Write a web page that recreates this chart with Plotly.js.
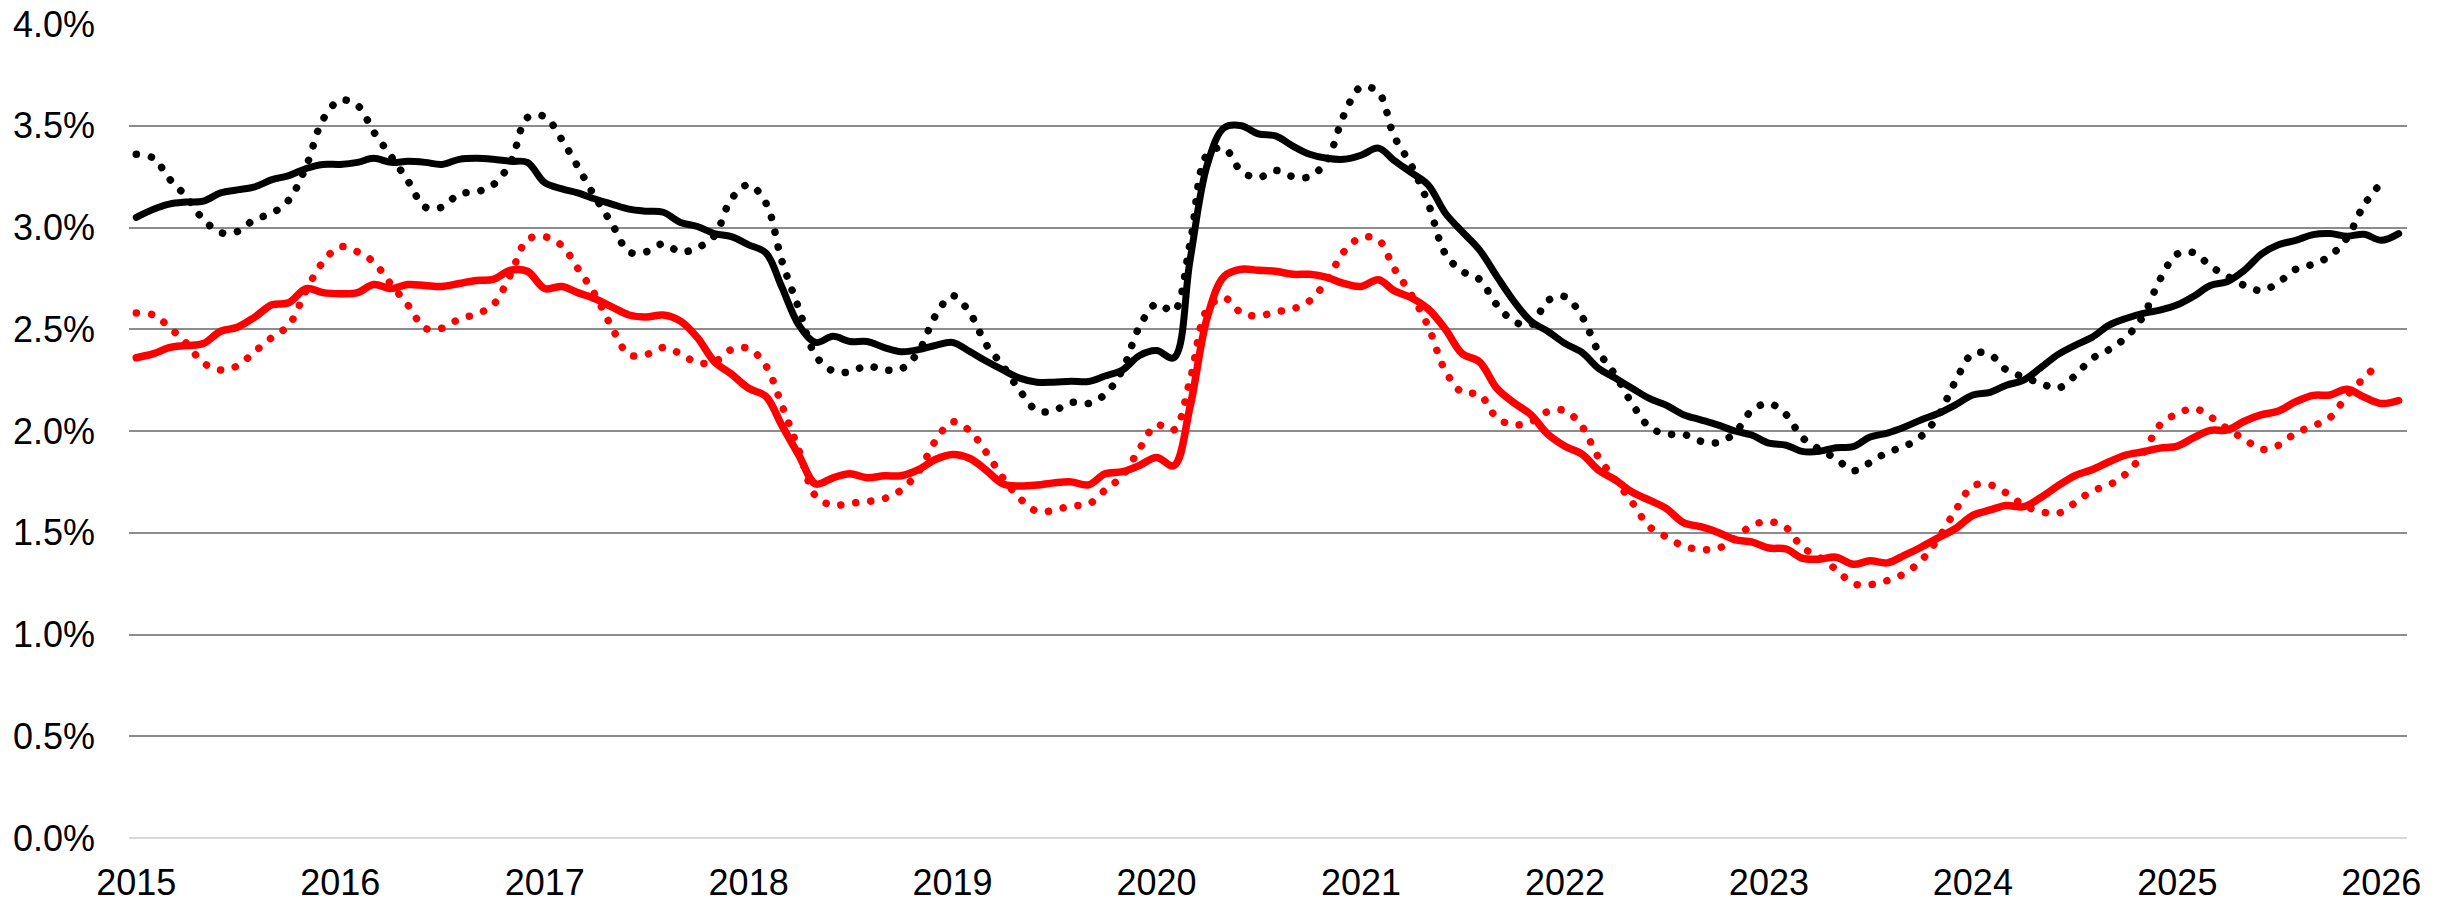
<!DOCTYPE html>
<html>
<head>
<meta charset="utf-8">
<script src="https://cdn.plot.ly/plotly-3.0.1.min.js"></script>
<style>
  html, body { margin: 0; padding: 0; background: #ffffff; }
  #chart { width: 2453px; height: 902px; }
  .scatterlayer .js-line { stroke-linecap: round; stroke-linejoin: round; }
</style>
</head>
<body>
<div id="chart"></div>
<script>
// Monthly observations, first value = January 2015
const startYear = 2015;

const blackSolid = [
  3.05, 3.09, 3.115, 3.125, 3.13, 3.17, 3.185, 3.20, 3.235, 3.255, 3.29, 3.31, 3.31, 3.32, 3.34, 3.32, 3.325, 3.32, 3.31, 3.335, 3.34, 3.335, 3.325,
  3.32, 3.22, 3.19, 3.17, 3.14, 3.115, 3.09, 3.08, 3.075, 3.025, 3.005, 2.97, 2.955, 2.915, 2.875, 2.71, 2.52, 2.435, 2.465, 2.44, 2.44, 2.41, 2.39,
  2.40, 2.42, 2.435, 2.39, 2.345, 2.30, 2.26, 2.24, 2.24, 2.245, 2.243, 2.27, 2.30, 2.37, 2.395, 2.36, 2.84, 3.31, 3.49, 3.50, 3.46, 3.45, 3.40,
  3.36, 3.34, 3.335, 3.355, 3.39, 3.33, 3.27, 3.21, 3.07, 2.98, 2.89, 2.76, 2.64, 2.54, 2.49, 2.43, 2.385, 2.31, 2.26, 2.21, 2.16, 2.127, 2.08,
  2.055, 2.03, 2.00, 1.98, 1.94, 1.93, 1.90, 1.90, 1.918, 1.923, 1.97, 1.99, 2.02, 2.055, 2.087, 2.128, 2.177, 2.19, 2.225, 2.25, 2.31, 2.375, 2.42,
  2.46, 2.52, 2.553, 2.578, 2.594, 2.62, 2.665, 2.715, 2.735, 2.79, 2.87, 2.915, 2.937, 2.965, 2.97, 2.957, 2.967, 2.937, 2.97
];

const blackDotted = [
  3.36, 3.34, 3.24, 3.15, 3.04, 2.975, 2.98, 3.04, 3.07, 3.135, 3.30, 3.53, 3.625, 3.60, 3.47, 3.35, 3.23, 3.10, 3.10, 3.165, 3.175, 3.21, 3.32,
  3.54, 3.545, 3.43, 3.30, 3.15, 3.02, 2.88, 2.88, 2.92, 2.88, 2.90, 2.96, 3.14, 3.21, 3.12, 2.84, 2.60, 2.37, 2.295, 2.29, 2.32, 2.30, 2.305,
  2.39, 2.565, 2.665, 2.58, 2.43, 2.32, 2.20, 2.10, 2.10, 2.14, 2.135, 2.18, 2.30, 2.51, 2.625, 2.59, 2.92, 3.36, 3.39, 3.275, 3.245, 3.28, 3.25,
  3.25, 3.33, 3.55, 3.69, 3.665, 3.45, 3.305, 3.12, 2.87, 2.785, 2.745, 2.62, 2.54, 2.52, 2.64, 2.66, 2.56, 2.395, 2.275, 2.135, 2.02, 1.985, 1.984,
  1.95, 1.943, 1.99, 2.10, 2.135, 2.08, 1.97, 1.91, 1.865, 1.805, 1.845, 1.895, 1.925, 1.975, 2.08, 2.245, 2.38, 2.375, 2.30, 2.265, 2.235, 2.21, 2.27,
  2.355, 2.40, 2.46, 2.565, 2.745, 2.87, 2.875, 2.81, 2.76, 2.715, 2.69, 2.73, 2.795, 2.82, 2.86, 2.95, 3.11, 3.22, null
];

const redSolid = [
  2.36, 2.38, 2.41, 2.42, 2.43, 2.49, 2.51, 2.56, 2.62, 2.63, 2.70, 2.68, 2.675, 2.68, 2.72, 2.70, 2.72, 2.715, 2.71, 2.725, 2.74, 2.745, 2.79,
  2.785, 2.70, 2.71, 2.68, 2.65, 2.61, 2.57, 2.56, 2.57, 2.54, 2.46, 2.34, 2.28, 2.21, 2.17, 2.03, 1.88, 1.74, 1.77, 1.79, 1.77, 1.78, 1.78,
  1.81, 1.86, 1.885, 1.865, 1.81, 1.74, 1.73, 1.735, 1.745, 1.75, 1.735, 1.79, 1.80, 1.83, 1.87, 1.83, 2.12, 2.56, 2.76, 2.795, 2.79, 2.785, 2.77,
  2.77, 2.755, 2.725, 2.71, 2.743, 2.69, 2.655, 2.60, 2.50, 2.38, 2.34, 2.21, 2.14, 2.08, 1.985, 1.925, 1.885, 1.81, 1.76, 1.70, 1.66, 1.62, 1.55,
  1.53, 1.503, 1.466, 1.455, 1.425, 1.42, 1.375, 1.37, 1.38, 1.345, 1.362, 1.352, 1.39, 1.43, 1.477, 1.521, 1.585, 1.612, 1.634, 1.628, 1.672, 1.73, 1.78,
  1.81, 1.849, 1.882, 1.898, 1.916, 1.926, 1.97, 2.003, 2.005, 2.048, 2.08, 2.098, 2.144, 2.175, 2.177, 2.205, 2.167, 2.135, 2.15
];

const redDotted = [
  2.58, 2.57, 2.51, 2.43, 2.335, 2.30, 2.32, 2.39, 2.46, 2.52, 2.69, 2.83, 2.905, 2.88, 2.83, 2.72, 2.62, 2.505, 2.505, 2.55, 2.575, 2.62, 2.77,
  2.94, 2.955, 2.91, 2.80, 2.67, 2.51, 2.375, 2.375, 2.41, 2.38, 2.335, 2.34, 2.40, 2.405, 2.32, 2.13, 1.905, 1.68, 1.635, 1.645, 1.653, 1.668, 1.71,
  1.80, 1.95, 2.045, 2.00, 1.90, 1.77, 1.67, 1.605, 1.61, 1.632, 1.64, 1.71, 1.78, 1.91, 2.03, 2.005, 2.25, 2.60, 2.655, 2.58, 2.565, 2.585, 2.60,
  2.64, 2.74, 2.88, 2.95, 2.94, 2.80, 2.67, 2.515, 2.295, 2.19, 2.18, 2.065, 2.03, 2.045, 2.095, 2.10, 2.02, 1.875, 1.76, 1.65, 1.53, 1.48, 1.435,
  1.418, 1.422, 1.47, 1.535, 1.555, 1.525, 1.43, 1.38, 1.32, 1.25, 1.245, 1.265, 1.30, 1.365, 1.475, 1.61, 1.73, 1.735, 1.695, 1.635, 1.605, 1.595, 1.645,
  1.705, 1.735, 1.79, 1.89, 2.03, 2.085, 2.11, 2.07, 2.01, 1.96, 1.91, 1.93, 1.99, 2.025, 2.065, 2.175, 2.26, 2.345, null
];

const yTicks = [0, 0.5, 1.0, 1.5, 2.0, 2.5, 3.0, 3.5, 4.0];
const yTickLabels = ['0.0%', '0.5%', '1.0%', '1.5%', '2.0%', '2.5%', '3.0%', '3.5%', '4.0%'];

// month dates for the x axis
const dates = blackSolid.map((_, i) => {
  const y = startYear + Math.floor(i / 12);
  const m = (i % 12) + 1;
  return y + '-' + (m < 10 ? '0' + m : m) + '-01';
});

const dotDash = '0.1px,15px';

const traces = [
  { x: dates, y: blackDotted, type: 'scatter', mode: 'lines', name: 'Black dotted',
    line: { color: '#000000', width: 7.5, dash: dotDash, shape: 'spline', smoothing: 1 }, connectgaps: false },
  { x: dates, y: redDotted, type: 'scatter', mode: 'lines', name: 'Red dotted',
    line: { color: '#ff0000', width: 7.5, dash: dotDash, shape: 'spline', smoothing: 1 }, connectgaps: false },
  { x: dates, y: blackSolid, type: 'scatter', mode: 'lines', name: 'Black',
    line: { color: '#000000', width: 7, shape: 'spline', smoothing: 1 } },
  { x: dates, y: redSolid, type: 'scatter', mode: 'lines', name: 'Red',
    line: { color: '#ff0000', width: 7.5, shape: 'spline', smoothing: 1 } }
];

const layout = {
  width: 2453,
  height: 902,
  margin: { l: 129, r: 46, t: 24, b: 64, pad: 0 },
  paper_bgcolor: '#ffffff',
  plot_bgcolor: '#ffffff',
  showlegend: false,
  font: { family: 'Liberation Sans, Arial, sans-serif', size: 36, color: '#000000' },
  xaxis: {
    type: 'date',
    range: ['2014-12-19', '2026-02-16'],
    tick0: '2015-01-01',
    dtick: 'M12',
    tickformat: '%Y',
    showgrid: false,
    zeroline: false,
    showline: false,
    ticks: '',
    ticklabelstandoff: 20,
    tickfont: { size: 36, color: '#000000' },
    fixedrange: true
  },
  yaxis: {
    range: [0, 4],
    tickvals: yTicks,
    ticktext: yTickLabels,
    showgrid: true,
    gridcolor: '#8c8c8c',
    gridwidth: 2,
    zeroline: true,
    zerolinecolor: '#d9d9d9',
    zerolinewidth: 2,
    showline: false,
    ticks: '',
    ticklabelstandoff: 33,
    tickfont: { size: 36, color: '#000000' },
    fixedrange: true
  }
};

Plotly.newPlot('chart', traces, layout, { displayModeBar: false, staticPlot: true });
</script>
</body>
</html>
